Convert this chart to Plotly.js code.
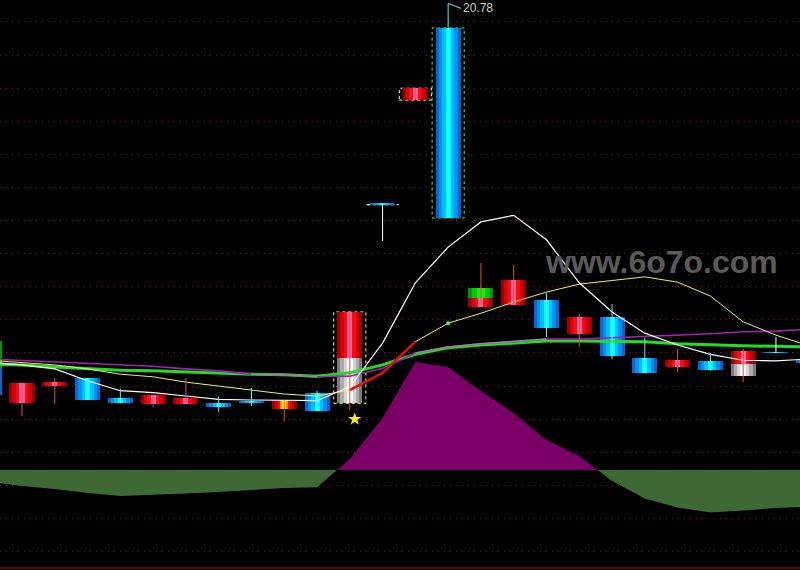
<!DOCTYPE html>
<html><head><meta charset="utf-8">
<script src="https://cdn.plot.ly/plotly-3.0.1.min.js"></script>
<style>html,body{margin:0;padding:0;background:#000;}#chart{width:800px;height:570px;}</style>
</head><body><div id="chart"></div>
<script>
// ---- data ----
const days  = [0,1,2,3,4,5,6,7,8,9,10,11,12,13,14,15,16,17,18,19,20,21,22,23,24,25];
const open  = [15.68,14.74,15.00,15.12,14.82,14.73,14.73,14.74,14.78,14.65,14.90,14.74,17.74,19.32,20.41,16.19,16.22,16.30,15.79,16.04,15.42,15.29,15.38,15.15,15.50,15.39];
const high  = [15.68,15.05,15.12,15.12,14.96,14.86,15.12,14.84,14.97,14.79,14.93,16.12,17.74,19.50,20.78,16.86,16.83,16.41,16.09,16.24,15.73,15.56,15.50,15.56,15.74,15.39];
const low   = [14.87,14.55,14.73,14.79,14.74,14.68,14.73,14.61,14.70,14.46,14.62,14.64,17.19,19.32,17.54,16.19,16.22,15.74,15.59,15.41,15.20,15.21,15.23,15.06,15.50,15.35];
const close = [14.87,15.05,15.06,14.79,14.74,14.86,14.82,14.68,14.74,14.79,14.62,16.12,17.74,19.50,17.54,16.48,16.60,15.88,16.04,15.45,15.20,15.39,15.24,15.53,15.50,15.35];

const ma5   = [15.36,15.32,15.26,15.08,14.93,14.90,14.85,14.80,14.79,14.78,14.78,14.99,15.65,16.56,17.10,17.48,17.58,17.21,16.56,16.12,15.80,15.62,15.48,15.39,15.38,15.41];
const ma10  = [15.39,15.36,15.32,15.26,15.18,15.14,15.06,15.00,14.94,14.88,14.85,14.94,15.20,15.67,15.95,16.10,16.27,16.42,16.54,16.60,16.65,16.57,16.36,15.97,15.77,15.61];
const maPurple = [15.41,15.39,15.36,15.35,15.33,15.30,15.26,15.23,15.18,15.17,15.14,15.15,15.27,15.50,15.59,15.64,15.67,15.71,15.71,15.73,15.74,15.77,15.79,15.82,15.83,15.86];
const maGreen  = [15.33,15.32,15.29,15.26,15.24,15.23,15.21,15.20,15.18,15.17,15.15,15.20,15.32,15.48,15.58,15.62,15.65,15.68,15.68,15.68,15.67,15.64,15.62,15.61,15.60,15.59];

const osc = [-1.2,-1.6,-1.9,-2.3,-2.6,-2.5,-2.35,-2.2,-2.0,-1.8,-1.73,1.1,5.2,10.8,10.3,7.9,5.7,3.0,1.4,-1.1,-2.85,-3.75,-4.25,-4.05,-3.8,-3.65];

const lowerWhiteDays = [11, 23];
const upperGreenDays = [0, 15];
const yellowCoreDays = [9];
const redTrendDays   = [11, 12, 13];
const grayDays       = [8, 9, 10, 13, 14, 15, 16, 17];
const dotDays        = [14];
const starDays       = [11];
const boxDays        = [11, 12, 13, 14];
const boxColors      = ['#ffff66', '#ffffcc', '#ffffff', '#33ff33'];
const highLabelDay   = 14;
const watermark      = 'www.6o7o.com';

// ---- derived ----
const n = days.length;
const isDoji = days.map((d,i)=> Math.abs(close[i]-open[i]) < 0.005);
const isUp   = days.map((d,i)=> close[i] > open[i] && !isDoji[i]);
const bodyLo = days.map((d,i)=> Math.min(open[i], close[i]));
const bodyLen= days.map((d,i)=> Math.max(Math.abs(close[i]-open[i]), 0.02));
const W = 0.763;

const traces = [];

// moving average lines
traces.push({x: days, y: maGreen, mode:'lines', line:{color:'#1fe01f', width:3}, hoverinfo:'skip'});
traces.push({x: days, y: maPurple, mode:'lines', line:{color:'#a41fb4', width:1.6}, hoverinfo:'skip'});
traces.push({x: days, y: maPurple.map((v,i)=> grayDays.includes(days[i]) ? v : null), mode:'lines', connectgaps:false, line:{color:'#8e8e8e', width:1.6}, hoverinfo:'skip'});
traces.push({x: days, y: ma10, mode:'lines', line:{color:'#eeee70', width:1}, hoverinfo:'skip'});
traces.push({x: days, y: ma10.map((v,i)=> redTrendDays.includes(days[i]) ? v : null), mode:'lines', connectgaps:false, line:{color:'#d81010', width:2.6}, hoverinfo:'skip'});
traces.push({x: days, y: ma5, mode:'lines', line:{color:'#ffffff', width:1.2}, hoverinfo:'skip'});
traces.push({x: dotDays, y: dotDays.map(d=> ma10[days.indexOf(d)]), mode:'markers', marker:{color:'#33ff33', size:4}, hoverinfo:'skip'});

// wicks
function wickTrace(filter, color){
  const xs=[], ys=[];
  days.forEach((d,i)=>{ if(filter(i)){ xs.push(d,d,null); ys.push(low[i],high[i],null);} });
  return {x:xs, y:ys, mode:'lines', line:{color:color, width:1}, hoverinfo:'skip'};
}
traces.push(wickTrace(i=>isUp[i], '#e84a4a'));
traces.push(wickTrace(i=>!isUp[i] && !isDoji[i], '#5ef2ff'));
traces.push(wickTrace(i=>isDoji[i], '#ffffff'));

// candle bodies with stripe gradient
const layers = [
  [1.00, '#9c0000', '#0a66cc'],
  [0.76, '#d40000', '#0090f4'],
  [0.48, '#ff0a0a', '#00bfff'],
  [0.20, '#ff66aa', '#00ffff']
];
layers.forEach(L=>{
  traces.push({type:'bar', x:days, base:bodyLo, y:bodyLen, width:W*L[0],
    marker:{color: days.map((d,i)=> isUp[i] ? L[1] : L[2]), line:{width:0}}, hoverinfo:'skip'});
});

function partBars(dayList, part, palette){
  const idx = dayList.map(d=>days.indexOf(d));
  palette.forEach(P=>{
    traces.push({type:'bar', x:dayList,
      base: idx.map(i=> part==='lower' ? bodyLo[i] : (part==='upper' ? bodyLo[i]+bodyLen[i]/2 : bodyLo[i])),
      y: idx.map(i=> part==='full' ? bodyLen[i] : bodyLen[i]/2),
      width: W*P[0], marker:{color:P[1], line:{width:0}}, hoverinfo:'skip'});
  });
}
partBars(lowerWhiteDays, 'lower', [[1.0,'#7c7c7c'],[0.76,'#ababab'],[0.48,'#d4d4d4'],[0.22,'#ffffff']]);
partBars(upperGreenDays, 'upper', [[1.0,'#009a00'],[0.7,'#00c800'],[0.35,'#10f010']]);
partBars(yellowCoreDays, 'full',  [[0.32,'#ff8a00'],[0.18,'#ffff00']]);

// star
traces.push({x: starDays.map(d=>d+0.15), y: starDays.map(d=> low[days.indexOf(d)]-0.14), mode:'markers',
  marker:{symbol:'star', size:10, color:'#ffee00', line:{width:0}}, hoverinfo:'skip'});

// oscillator area (secondary axis), split at zero crossings
const ox=[], ov=[];
for(let i=0;i<n;i++){
  ox.push(days[i]); ov.push(osc[i]);
  if(i<n-1 && (osc[i]>0) !== (osc[i+1]>0)){
    const t = osc[i]/(osc[i]-osc[i+1]);
    ox.push(days[i]+t*(days[i+1]-days[i])); ov.push(0);
  }
}
traces.push({x:ox, y:ov.map(v=>Math.max(v,0)), yaxis:'y2', mode:'lines', fill:'tozeroy',
  fillcolor:'#7a0066', line:{width:0, color:'#7a0066'}, hoverinfo:'skip'});
traces.push({x:ox, y:ov.map(v=>Math.min(v,0)), yaxis:'y2', mode:'lines', fill:'tozeroy',
  fillcolor:'#3e6834', line:{width:0, color:'#3e6834'}, hoverinfo:'skip'});

// highlight boxes
const shapes = boxDays.map((d,j)=>{
  const i = days.indexOf(d);
  return {type:'rect', xref:'x', yref:'y', x0:d-0.49, x1:d+0.49,
    y0: bodyLo[i], y1: bodyLo[i] + Math.abs(close[i]-open[i]),
    line:{color:boxColors[j], width:1, dash:'dot'}, layer:'below'};
});
shapes.push({type:'line', xref:'paper', yref:'paper', x0:0, x1:1, y0:0.0035, y1:0.0035,
  line:{color:'#7a0c0c', width:1.5}});

const hi = days.indexOf(highLabelDay);
const layout = {
  width:800, height:570,
  margin:{l:0, r:0, t:0, b:0, pad:0},
  paper_bgcolor:'#000000', plot_bgcolor:'#000000',
  showlegend:false, barmode:'overlay', bargap:0,
  xaxis:{range:[0.329, 24.734], visible:false, fixedrange:true},
  yaxis:{range:[12.222, 20.832], tick0:0, dtick:0.5, showgrid:true, gridcolor:'#8c1e1e',
    griddash:'1px,5px', gridwidth:1, zeroline:false, showticklabels:false, ticks:'', showline:false},
  yaxis2:{range:[-10, 47], overlaying:'y', visible:false, showgrid:false, zeroline:false},
  shapes: shapes,
  annotations:[
    {x: highLabelDay, y: high[hi], xref:'x', yref:'y', text: high[hi].toFixed(2),
     showarrow:true, arrowhead:0, arrowwidth:1, arrowcolor:'#cfcfcf', ax:13, ay:5,
     xanchor:'left', yanchor:'middle', standoff:0,
     font:{family:'Liberation Sans, Arial, sans-serif', size:12, color:'#d0d0d0'}},
    {x:0.827, y:0.54, xref:'paper', yref:'paper', text: watermark, showarrow:false,
     xanchor:'center', yanchor:'middle',
     font:{family:'Liberation Sans, Arial, sans-serif', size:32, color:'#5a5a5a', weight:'bold'}}
  ]
};
Plotly.newPlot('chart', traces, layout, {staticPlot:true, displayModeBar:false});
</script>
</body></html>
